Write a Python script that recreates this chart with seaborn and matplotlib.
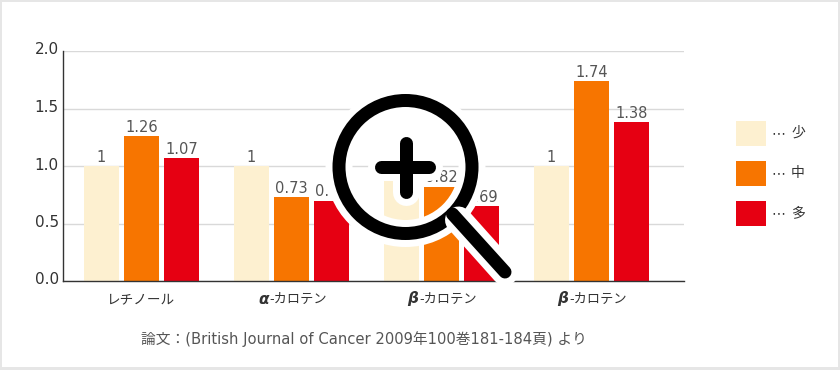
# -*- coding: utf-8 -*-
""" Carotenoid intake bars with the magnifier icon on top. """
import matplotlib
matplotlib.use("Agg")
import matplotlib.pyplot as plt
from matplotlib.patches import Circle, Rectangle
from matplotlib.transforms import ScaledTranslation
import pandas as pd
import seaborn as sns

WIDTH, HEIGHT = 840, 370

categories = ["レチノール", "α-カロテン", "β-カロテン", "β-カロテン"]
levels = ["少", "中", "多"]
low_values = [1, 1, 1, 1]
mid_values = [1.26, 0.73, 0.82, 1.74]
high_values = [1.07, 0.70, 0.65, 1.38]
low_labels = ["1", "1", "1", "1"]
mid_labels = ["1.26", "0.73", "0.82", "1.74"]
high_labels = ["1.07", "0.70", "0.69", "1.38"]
y_ticks = [0.0, 0.5, 1.0, 1.5, 2.0]
source = "論文：(British Journal of Cancer 2009年100巻181-184頁) より"

COLORS = ["#fdf0d0", "#f77500", "#e60012"]
TEXT = "#333333"
FONTS = ["DejaVu Sans", "Noto Sans CJK JP"]

sns.set_theme(style="white")
plt.rcParams["font.family"] = ["Noto Sans CJK JP", "DejaVu Sans"]

df = pd.DataFrame({
    "category": list(range(4)) * 3,
    "level": [lv for lv in levels for _ in range(4)],
    "value": low_values + mid_values + high_values,
})

fig = plt.figure(figsize=(WIDTH / 100, HEIGHT / 100), dpi=100, facecolor="#e6e6e6")

# white card, the grey figure background stays visible as the frame
card = fig.add_axes([0, 0, 1, 1])
card.set_xlim(0, WIDTH)
card.set_ylim(HEIGHT, 0)
card.axis("off")
card.add_patch(Rectangle((2, 2), WIDTH - 4, HEIGHT - 5, facecolor="white", edgecolor="none"))

ax = fig.add_axes([63 / WIDTH, 1 - 281 / HEIGHT, 621 / WIDTH, 230 / HEIGHT], facecolor="none")

sns.barplot(data=df, x="category", y="value", hue="level", hue_order=levels, palette=COLORS,
            width=0.8, gap=0.125, saturation=1, legend=False, ax=ax, zorder=2, linewidth=0)

ax.set_xlim((63 - 141.5) / 150, (684 - 141.5) / 150)
ax.set_ylim(0, 2)
ax.set_xlabel("")
ax.set_ylabel("")
ax.set_yticks(y_ticks)
ax.set_yticklabels([f"{t:.1f}" for t in y_ticks], fontsize=11, color=TEXT, family="DejaVu Sans")
ax.set_xticks(range(4))
ax.set_xticklabels([])
ax.tick_params(axis="both", length=0, pad=3)
ax.grid(axis="y", color="#d9d9d9", linewidth=1)
ax.set_axisbelow(True)
for side in ("top", "right"):
    ax.spines[side].set_visible(False)
for side in ("left", "bottom"):
    ax.spines[side].set_color("#333333")
    ax.spines[side].set_linewidth(1)

# tick labels sit a little above their lines in the original
nudge = ScaledTranslation(0, 2.5 / 100, fig.dpi_scale_trans)
for tick_label in ax.get_yticklabels():
    tick_label.set_transform(tick_label.get_transform() + nudge)

for container, labels in zip(ax.containers, (low_labels, mid_labels, high_labels)):
    ax.bar_label(container, labels=labels, padding=1, fontsize=10.5, color="#555555",
                 family="DejaVu Sans")

# category labels, the greek letter is italic so it needs its own text
for i, label in enumerate(categories):
    if label[0] in "αβ":
        ax.annotate(label[0], (i, 0), xytext=(-23, -18), xycoords=("data", "axes fraction"),
                    textcoords="offset pixels", ha="right", va="center", fontsize=11,
                    family="DejaVu Sans", style="italic", weight="bold", color=TEXT)
        ax.annotate(label[1:], (i, 0), xytext=(-22, -18), xycoords=("data", "axes fraction"),
                    textcoords="offset pixels", ha="left", va="center", fontsize=9.5, color=TEXT)
    else:
        ax.annotate(label, (i, 0), xytext=(-1, -18), xycoords=("data", "axes fraction"),
                    textcoords="offset pixels", ha="center", va="center", fontsize=9.8, color=TEXT)

# overlay in pixel units for legend, source line and icon
over = fig.add_axes([0, 0, 1, 1], facecolor="none")
over.set_xlim(0, WIDTH)
over.set_ylim(HEIGHT, 0)
over.axis("off")

for top, color, level in zip((121, 161, 201), COLORS, levels):
    over.add_patch(Rectangle((736, top), 30, 25, facecolor=color, edgecolor="none"))
    over.text(771, top + 12.5, "⋯", fontsize=10, color=TEXT, va="center", ha="left",
              family="DejaVu Sans")
    over.text(791, top + 12, level, fontsize=10, color=TEXT, va="center", ha="left")

over.text(364, 339, source, fontsize=10.6, color="#555555", ha="center", va="center",
          family=FONTS)

# magnifier: white halo first, black strokes on top
CX, CY = 405.5, 167
PT = 72 / 100
arm_h = ([381, 429], [CY, CY])
arm_v = ([CX, CX], [143, 192])
for xs, ys in (([CX + 53, 505], [CY + 53, 272]), arm_h, arm_v):
    over.plot(xs, ys, color="white", linewidth=(13 + 14) * PT, solid_capstyle="round")
over.add_patch(Circle((CX, CY), 66.5, fill=False, edgecolor="white", linewidth=27 * PT))
for xs, ys in (([CX + 47, 505], [CY + 47, 272]), arm_h, arm_v):
    over.plot(xs, ys, color="black", linewidth=13 * PT, solid_capstyle="round")
over.add_patch(Circle((CX, CY), 66.5, fill=False, edgecolor="black", linewidth=13 * PT))

fig.savefig("out.png", dpi=100, facecolor=fig.get_facecolor())
